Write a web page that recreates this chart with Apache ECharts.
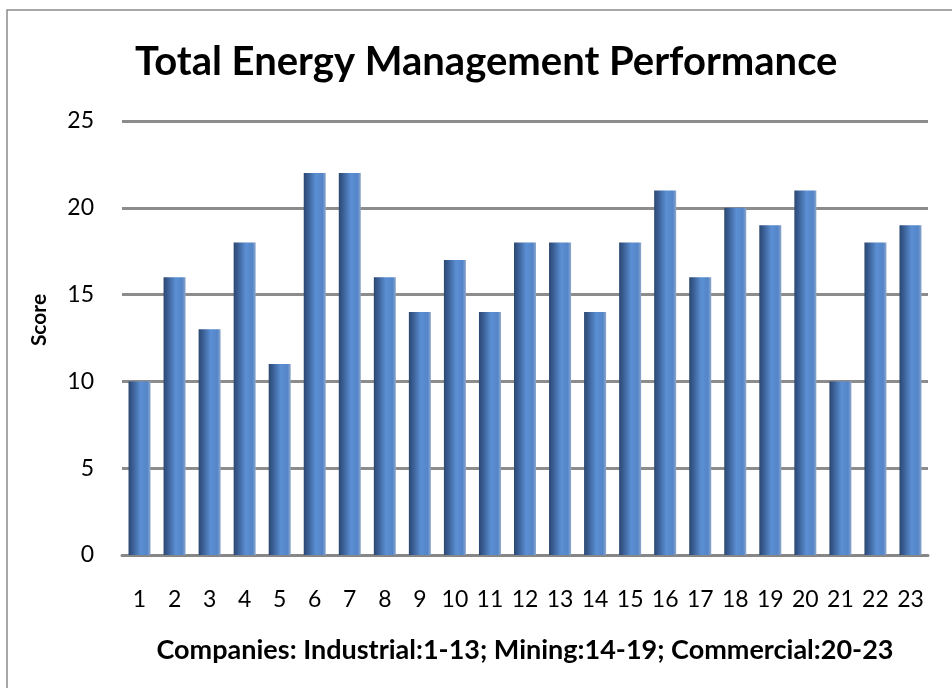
<!DOCTYPE html>
<html>
<head>
<meta charset="utf-8">
<script src="https://cdn.jsdelivr.net/npm/echarts@6/dist/echarts.min.js"></script>
<style>
  html, body { margin: 0; padding: 0; background: #fff; }
  #main { width: 952px; height: 688px; }
</style>
</head>
<body>
<div id="main"></div>
<script>
// data
var companies = ['1','2','3','4','5','6','7','8','9','10','11','12','13','14','15','16','17','18','19','20','21','22','23'];
var scores = [10, 16, 13, 18, 11, 22, 22, 16, 14, 17, 14, 18, 18, 14, 18, 21, 16, 20, 19, 21, 10, 18, 19];
var yTicks = [0, 5, 10, 15, 20, 25];

var chart = echarts.init(document.getElementById('main'));

// bar fill: cylinder-like shading from dark left to light
var barFill = new echarts.graphic.LinearGradient(0, 0, 1, 0, [
    { offset: 0, color: '#2b4770' },
    { offset: 0.2, color: '#3a5f95' },
    { offset: 0.55, color: '#5b8fd3' },
    { offset: 0.85, color: '#5485c8' },
    { offset: 1, color: '#8ea8cc' }
]);

var option = {
    backgroundColor: '#ffffff',
    textStyle: { fontFamily: 'Lato' },
    graphic: [{
        type: 'rect',
        shape: { x: 7, y: 10, width: 960, height: 700 },
        style: { fill: 'none', stroke: '#8c8c8c', lineWidth: 1.5 },
        silent: true
    }],
    title: {
        text: 'Total Energy Management Performance',
        left: 130,
        top: 37,
        textStyle: { fontFamily: 'Lato', fontWeight: 'bold', fontSize: 40, color: '#000' }
    },
    grid: { left: 122, right: 24, top: 121, bottom: 133 },
    xAxis: {
        type: 'category',
        data: companies,
        name: 'Companies: Industrial:1-13; Mining:14-19; Commercial:20-23',
        nameLocation: 'middle',
        nameGap: 82,
        nameTextStyle: { fontFamily: 'Lato', fontWeight: 'bold', fontSize: 27, color: '#000' },
        axisLine: { lineStyle: { color: '#868686', width: 3 } },
        axisTick: { show: false },
        axisLabel: { fontFamily: 'Lato', fontSize: 23, color: '#000', margin: 33, interval: 0 }
    },
    yAxis: {
        type: 'value',
        min: yTicks[0],
        max: yTicks[yTicks.length - 1],
        interval: 5,
        name: 'Score',
        nameLocation: 'middle',
        nameGap: 72,
        nameTextStyle: { fontFamily: 'Lato', fontWeight: 'bold', fontSize: 21, color: '#000', padding: [0, 0, 0, 36] },
        axisLine: { show: false },
        axisTick: { show: false },
        axisLabel: { fontFamily: 'Lato', fontSize: 23, color: '#000', margin: 28 },
        splitLine: { lineStyle: { color: '#8c8c8c', width: 3 } }
    },
    series: [{
        type: 'bar',
        data: scores,
        barWidth: 22,
        itemStyle: { color: barFill },
        z: 3
    }]
};

chart.setOption(option);
</script>
</body>
</html>
